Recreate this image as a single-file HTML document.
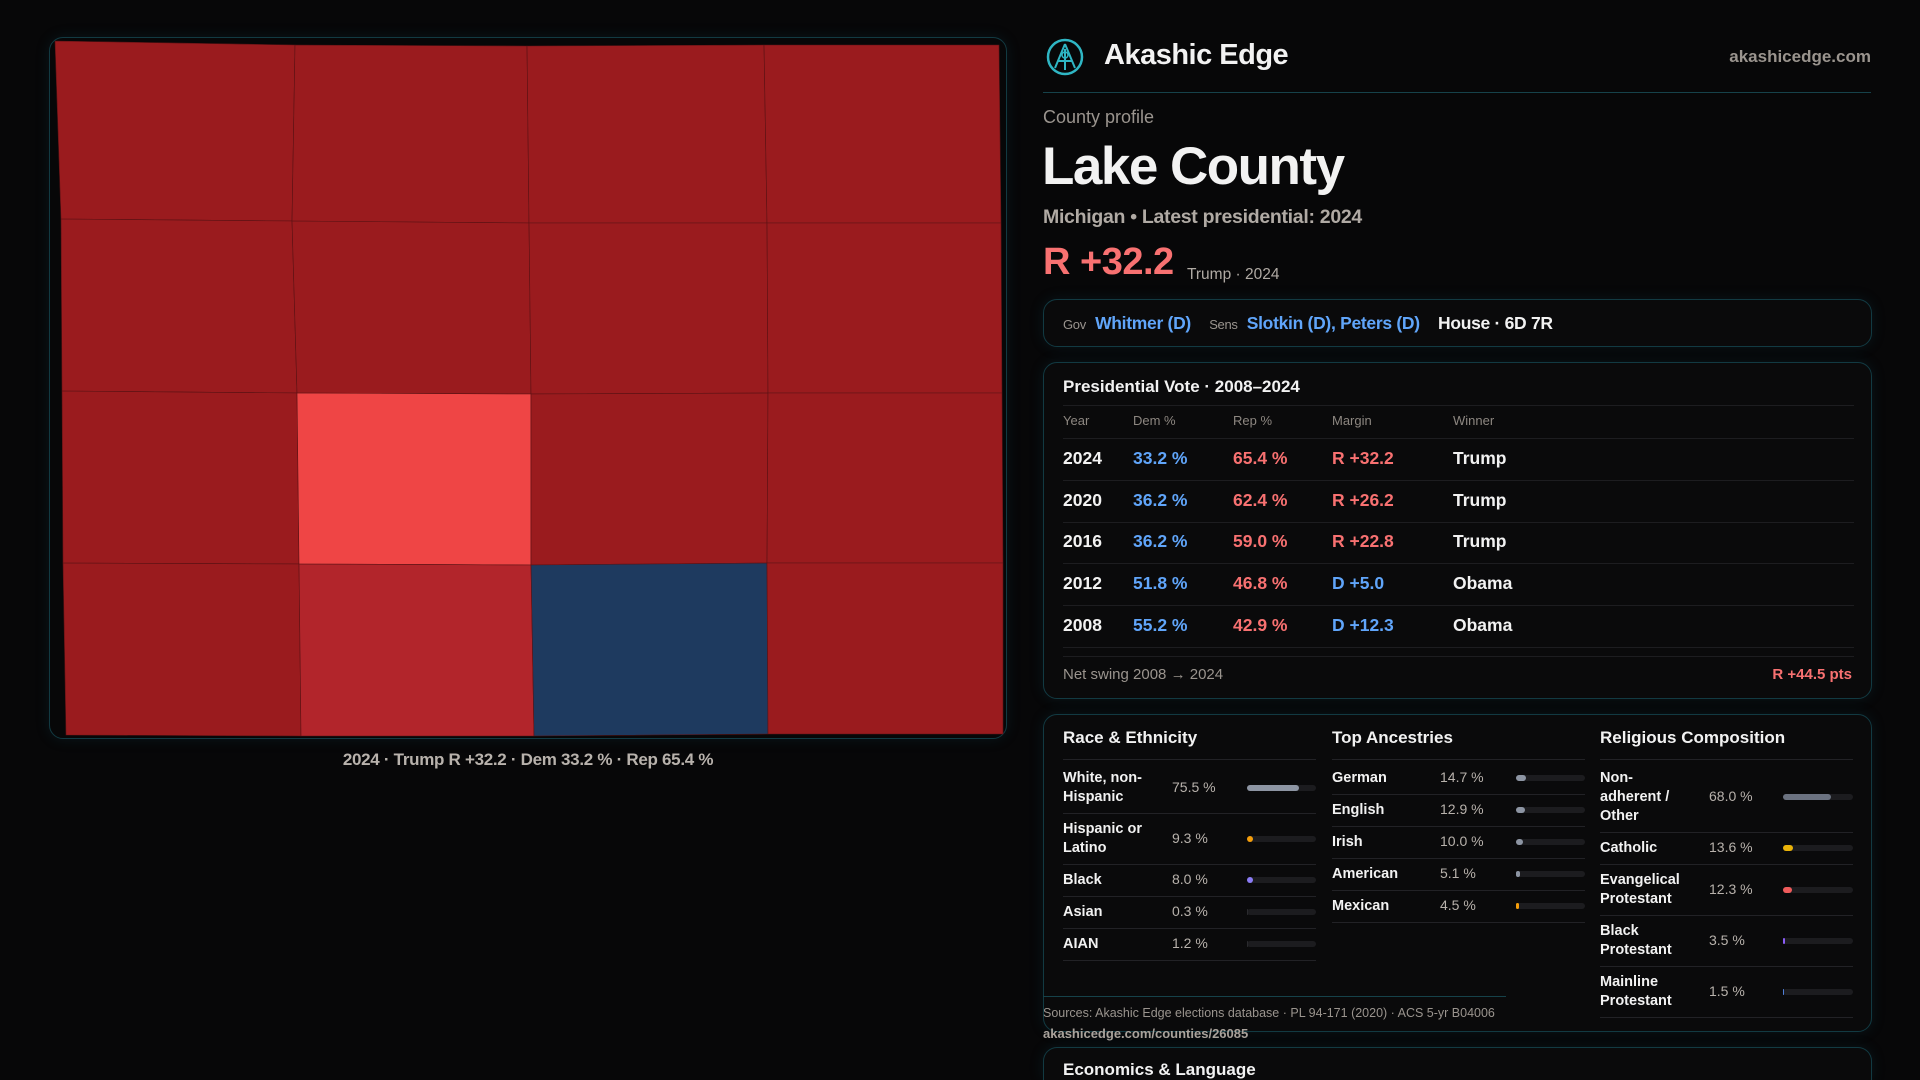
<!DOCTYPE html>
<html><head><meta charset="utf-8">
<style>
*{box-sizing:border-box;margin:0;padding:0}
html,body{width:1920px;height:1080px;overflow:hidden}
body{background:#070708;font-family:"Liberation Sans",sans-serif;color:#f2f2f2;position:relative}
.a{position:absolute;white-space:nowrap}
.box{position:absolute;border:1px solid #123a42;border-radius:14px;background:#0a0a0b;box-shadow:0 0 14px rgba(20,90,110,.18)}
.g{color:#9a948e}
.blue{color:#60a5fa}.red{color:#f87171}
.hl{position:absolute;height:1px;background:#1d1d20}
</style></head><body>
<div class="box" style="left:49px;top:37px;width:958px;height:702px;background:#070708"></div>
<svg class="a" style="left:0;top:0" width="1040" height="760" id="map"></svg>
<div class="a" style="left:0;width:1056px;top:750px;text-align:center;font-size:17px;font-weight:bold;color:#b8b2ac;letter-spacing:-0.3px">2024 · Trump R +32.2 · Dem 33.2 % · Rep 65.4 %</div>

<svg class="a" style="left:1045px;top:37px" width="40" height="40" viewBox="0 0 40 40"><circle cx="20" cy="20" r="17" fill="none" stroke="#2fb6c4" stroke-width="2.5"/><path d="M20 7 L10 31 M20 7 L30 31 M13 24 L27 24 M20 12 L20 33" stroke="#2fb6c4" stroke-width="2" fill="none"/><circle cx="20" cy="18" r="3" fill="none" stroke="#2fb6c4" stroke-width="1.5"/></svg>
<div class="a" style="left:1104px;top:39px;font-size:29px;font-weight:bold;letter-spacing:-0.5px">Akashic Edge</div>
<div class="a g" style="right:49px;top:47px;font-size:17px;font-weight:bold">akashicedge.com</div>
<div class="hl" style="left:1043px;width:828px;top:92px;background:#16424a"></div>
<div class="a g" style="left:1043px;top:107px;font-size:18px">County profile</div>
<div class="a" style="left:1042px;top:136px;font-size:53px;font-weight:bold;letter-spacing:-1.5px">Lake County</div>
<div class="a" style="left:1043px;top:206px;font-size:19.5px;font-weight:bold;color:#b0aaa4;letter-spacing:-0.3px">Michigan • Latest presidential: 2024</div>
<div class="a red" style="left:1043px;top:241px;font-size:38px;font-weight:bold;letter-spacing:-0.5px">R +32.2</div>
<div class="a" style="left:1187px;top:266px;font-size:15.5px;color:#b0aaa4">Trump · 2024</div>

<div class="box" style="left:1043px;top:299px;width:829px;height:48px"></div>
<div class="a" style="left:1063px;top:313px;font-size:17.5px;font-weight:bold;letter-spacing:-0.3px"><span class="g" style="font-size:13px;font-weight:normal">Gov</span>&nbsp; <span class="blue">Whitmer (D)</span>&nbsp;&nbsp;&nbsp; <span class="g" style="font-size:13px;font-weight:normal">Sens</span>&nbsp; <span class="blue">Slotkin (D), Peters (D)</span>&nbsp;&nbsp;&nbsp; <span>House · 6D 7R</span></div>

<div class="box" style="left:1043px;top:362px;width:829px;height:337px"></div>
<div class="a" style="left:1063px;top:377px;font-size:17px;font-weight:bold">Presidential Vote · 2008–2024</div>
<div class="hl" style="left:1063px;width:791px;top:405px"></div>
<div id="pres"></div>
<div class="hl" style="left:1063px;width:791px;top:656px"></div>
<div class="a g" style="left:1063px;top:666px;font-size:15px">Net swing 2008 → 2024</div>
<div class="a red" style="right:68px;top:666px;font-size:15px;font-weight:bold">R +44.5 pts</div>

<div class="box" style="left:1043px;top:714px;width:829px;height:318px"></div>
<div class="a" style="left:1063px;top:728px;font-size:17px;font-weight:bold">Race &amp; Ethnicity</div>
<div class="a" style="left:1332px;top:728px;font-size:17px;font-weight:bold">Top Ancestries</div>
<div class="a" style="left:1600px;top:728px;font-size:17px;font-weight:bold">Religious Composition</div>
<div id="demo"></div>
<div class="hl" style="left:1043px;width:463px;top:996px;background:#16424a"></div>
<div class="a g" style="left:1043px;top:1006px;font-size:12.5px">Sources: Akashic Edge elections database · PL 94-171 (2020) · ACS 5-yr B04006</div>
<div class="a g" style="left:1043px;top:1026px;font-size:13px;font-weight:bold;color:#aaa39c">akashicedge.com/counties/26085</div>
<div class="box" style="left:1043px;top:1047px;width:829px;height:33px;border-bottom:none;border-radius:14px 14px 0 0"></div>
<div class="a" style="left:1063px;top:1060px;font-size:17px;font-weight:bold;line-height:20px">Economics &amp; Language</div>

<script>
// Map data: margin per cell (positive = R, negative = D), row-major 4x4
const mapMargins=[30,30,30,30, 30,30,30,30, 30,8,30,30, 30,18,-4,30];
// Presidential table
const years=["2024","2020","2016","2012","2008"];
const demPct=[33.2,36.2,36.2,51.8,55.2];
const repPct=[65.4,62.4,59.0,46.8,42.9];
const winners=["Trump","Trump","Trump","Obama","Obama"];
// Demographics
const raceLabels=["White, non-\nHispanic","Hispanic or\nLatino","Black","Asian","AIAN"];
const raceVals=[75.5,9.3,8.0,0.3,1.2];
const ancLabels=["German","English","Irish","American","Mexican"];
const ancVals=[14.7,12.9,10.0,5.1,4.5];
const relLabels=["Non-\nadherent /\nOther","Catholic","Evangelical\nProtestant","Black\nProtestant","Mainline\nProtestant"];
const relVals=[68.0,13.6,12.3,3.5,1.5];

const NS="http://www.w3.org/2000/svg";
const map=document.getElementById('map');
const CX=[[55,295,527,764,999],[61,292,529,767,1001],[62,297,531,768,1002],[63,299,531,767,1003],[66,301,534,768,1003]];
const CY=[[41,45,46,45,45],[219,221,223,223,223],[391,393,394,393,393],[563,564,565,563,563],[735,736,736,734,734]];
function color(m){
  if(m<0) return '#1e3a5f';
  if(m<10) return '#ef4545';
  if(m<22) return '#b2252b';
  return '#9a1b1e';
}
for(let r=0;r<4;r++)for(let c=0;c<4;c++){
  const m=mapMargins[r*4+c];
  const p=document.createElementNS(NS,'polygon');
  p.setAttribute('points',[[r,c],[r,c+1],[r+1,c+1],[r+1,c]].map(([a,b])=>CX[a][b]+','+CY[a][b]).join(' '));
  p.setAttribute('fill',color(m));
  p.setAttribute('stroke','#5a1214');
  p.setAttribute('stroke-width','0.6');
  
  
  map.appendChild(p);
}

const pres=document.getElementById('pres');
function add(parent,html,style,name,inter){
  const d=document.createElement('div');d.className='a';d.innerHTML=html;d.style.cssText=style;
  
  
  parent.appendChild(d);return d;
}
const hdr=["Year","Dem %","Rep %","Margin","Winner"],colX=[1063,1133,1233,1332,1453];
hdr.forEach((h,i)=>add(pres,h,`left:${colX[i]}px;top:413px;font-size:13px;color:#8d8781`,'column-header',false));
add(pres,'',`left:1063px;top:438px;width:791px;height:1px;background:#1d1d20`,'table-rule',false);
years.forEach((y,i)=>{
  const top=448+i*41.7;
  const m=repPct[i]-demPct[i];
  const mt=(m>=0?'R +':'D +')+Math.abs(m).toFixed(1);
  add(pres,y,`left:${colX[0]}px;top:${top}px;font-size:17.5px;font-weight:bold`,'row-year',false);
  add(pres,demPct[i].toFixed(1)+' %',`left:${colX[1]}px;top:${top}px;font-size:17.5px;font-weight:bold;color:#60a5fa`,'row-dem',false);
  add(pres,repPct[i].toFixed(1)+' %',`left:${colX[2]}px;top:${top}px;font-size:17.5px;font-weight:bold;color:#f87171`,'row-rep',false);
  add(pres,mt,`left:${colX[3]}px;top:${top}px;font-size:17.5px;font-weight:bold;color:${m>=0?'#f87171':'#60a5fa'}`,'row-margin',false);
  add(pres,winners[i],`left:${colX[4]}px;top:${top}px;font-size:17.5px;font-weight:bold`,'row-winner',false);
  add(pres,'',`left:1063px;top:${top+32}px;width:791px;height:1px;background:#1d1d20`,'table-rule',false);
});

const demo=document.getElementById('demo');
function section(labels,vals,x,valX,barX,barW,colors,name){
  let top=762;
  add(demo,'',`left:${x}px;top:${top-3}px;width:${barX+barW-x}px;height:1px;background:#222226`,'section-rule',false);
  labels.forEach((l,i)=>{
    const lines=l.split('\n').length;
    const h=lines===1?32:(lines===2?51:70);
    const mid=top+h/2;
    add(demo,l.replace(/\n/g,'<br>'),`left:${x}px;top:${mid-lines*9.5}px;font-size:14.5px;font-weight:bold;line-height:19px`,name+'-label',false);
    add(demo,vals[i].toFixed(1)+' %',`left:${valX}px;top:${mid-9}px;font-size:14px;color:#b8b2ac`,name+'-value',false);
    const b=add(demo,'',`left:${barX}px;top:${mid-3}px;width:${barW}px;height:6px;border-radius:3px;background:#1c1c1f`,name+'-bar-track',false);
    const f=document.createElement('i');
    f.style.cssText=`position:absolute;left:0;top:0;height:6px;border-radius:3px;background:${colors[i]};width:${barW*vals[i]/100}px`;
    
    
    b.appendChild(f);
    top+=h;
    add(demo,'',`left:${x}px;top:${top}px;width:${barX+barW-x}px;height:1px;background:#222226`,'row-rule',false);
  });
}
section(raceLabels,raceVals,1063,1172,1247,69,['#8d95a3','#f59e0b','#8b7cf6','#2a2a2e','#2a2a2e'],'race');
section(ancLabels,ancVals,1332,1440,1516,69,['#8d95a3','#8d95a3','#8d95a3','#8d95a3','#f59e0b'],'ancestry');
section(relLabels,relVals,1600,1709,1783,70,['#6b7280','#eab308','#ef5b5b','#8b5cf6','#4f7fd8'],'religion');
</script>
</body></html>
